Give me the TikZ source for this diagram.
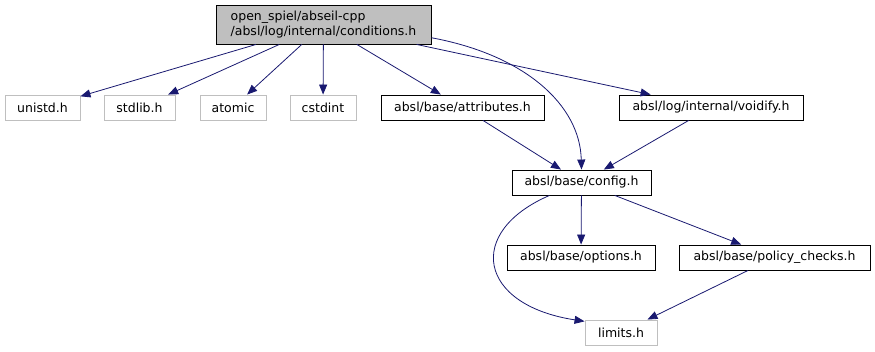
\documentclass[tikz,border=0pt]{standalone}
\usepackage{fontspec}
\setmainfont{DejaVu Sans}
\usetikzlibrary{arrows.meta}

\definecolor{edgeblue}{HTML}{191970}
\definecolor{boxgray}{HTML}{BFBFBF}

\begin{document}
\begin{tikzpicture}[x=1pt, y=-1pt,
	file/.style={draw=black, line width=0.9pt, inner sep=0pt, minimum height=25pt, font=\fontsize{12.5}{15}\selectfont},
	sysfile/.style={file, draw=boxgray},
	rootfile/.style={file, fill=boxgray, minimum height=39pt, align=left},
	edge/.style={draw=edgeblue, line width=0.8pt, -{Triangle[length=10pt, width=8pt]}}]
	\useasboundingbox (0,0) rectangle (875,351);

	% the header itself
	\node[rootfile, minimum width=215pt] (conditions) at (323.5,24.5) {open\_spiel/abseil-cpp\\/absl/log/internal/conditions.h};

	% first row
	\node[sysfile, minimum width=75pt] (unistd) at (42.5,107.5) {unistd.h};
	\node[sysfile, minimum width=71pt] (stdlib) at (139.5,107.5) {stdlib.h};
	\node[sysfile, minimum width=66pt] (atomic) at (233,107.5) {atomic};
	\node[sysfile, minimum width=66pt] (cstdint) at (323,107.5) {cstdint};
	\node[file, minimum width=163pt] (attributes) at (462.5,107.5) {absl/base/attributes.h};
	\node[file, minimum width=184pt] (voidify) at (711,107.5) {absl/log/internal/voidify.h};

	% config and below
	\node[file, minimum width=139pt] (config) at (581.5,182.5) {absl/base/config.h};
	\node[file, minimum width=148pt] (options) at (581,257.5) {absl/base/options.h};
	\node[file, minimum width=191pt] (policy) at (774.5,257.5) {absl/base/policy\_checks.h};
	\node[sysfile, minimum width=72pt] (limits) at (621,332.5) {limits.h};

	\draw[edge] (conditions) -- (unistd);
	\draw[edge] (conditions) -- (stdlib);
	\draw[edge] (conditions) -- (atomic);
	\draw[edge] (conditions) -- (cstdint);
	\draw[edge] (conditions) -- (attributes);
	\draw[edge] (conditions) -- (voidify);
	\draw[edge] (conditions.-7) .. controls (525,55) and (580,105) .. (config.north);

	\draw[edge] (attributes) -- (config);
	\draw[edge] (voidify) -- (config);

	\draw[edge] (config.-158) .. controls (465,232) and (478,305) .. (limits.163);
	\draw[edge] (config) -- (options);
	\draw[edge] (config) -- (policy);
	\draw[edge] (policy) -- (limits);
\end{tikzpicture}
\end{document}
